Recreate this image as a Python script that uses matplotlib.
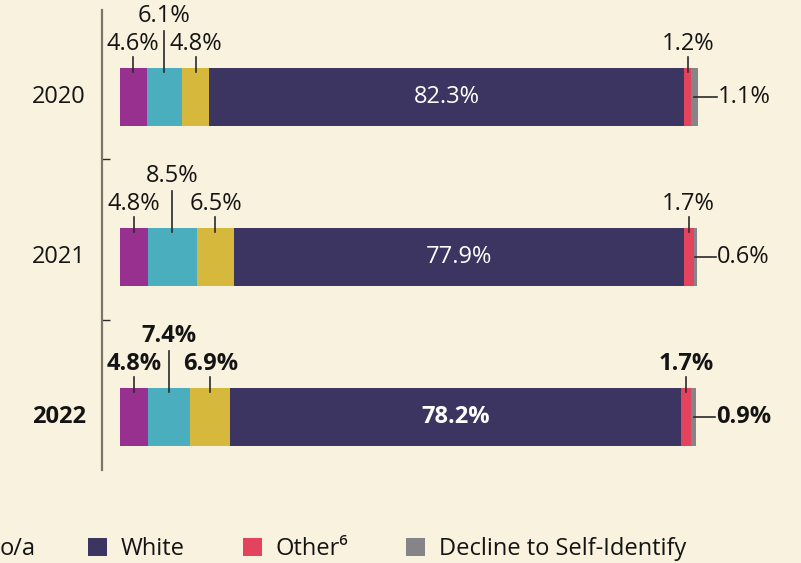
import matplotlib
matplotlib.use("Agg")
import matplotlib.pyplot as plt
from matplotlib.patches import Patch

plt.rcParams['font.family'] = ['Open Sans', 'DejaVu Sans']

years = ["2020", "2021", "2022"]
segments = ["Seg1", "Seg2", "Latino/a", "White", "Other\u2076", "Decline to Self-Identify"]
values = {
    "2020": [4.6, 6.1, 4.8, 82.3, 1.2, 1.1],
    "2021": [4.8, 8.5, 6.5, 77.9, 1.7, 0.6],
    "2022": [4.8, 7.4, 6.9, 78.2, 1.7, 0.9],
}
colors = ["#97308F", "#4BAEBE", "#D6B93C", "#3C3561", "#E4435E", "#858489"]
bg = "#F8F2DE"
txt = "#141414"

W, H = 801, 563
fig = plt.figure(figsize=(W / 100, H / 100), dpi=100, facecolor=bg)
ax = fig.add_axes([0, 0, 1, 1], facecolor=bg)

pxx = 5.77   # px per percent
pxy = 160.0  # px per category step
x0px, y0px = 120, 97
ax.set_xlim(-x0px / pxx, (W - x0px) / pxx)
ax.set_ylim(2 + (H - (y0px + 2 * pxy)) / pxy, -y0px / pxy)

bar_h = 58 / pxy
fs = 17

for i, yr in enumerate(years):
    vals = values[yr]
    bold = (yr == "2022")
    fw = "bold" if bold else "normal"
    left = 0
    for j, v in enumerate(vals):
        ax.barh(i, v, left=left, height=bar_h, color=colors[j], edgecolor="none")
        cx = left + v / 2
        lab = f"{v:.1f}%"
        if j == 3:
            ax.text(cx, i, lab, ha="center", va="center", color="white",
                    fontsize=fs, fontweight=fw)
        elif j == 5:
            end = left + v
            ax.plot([cx, end + 19 / pxx], [i, i], color="#2a2a2a", lw=1.2)
            ax.text(end + 20 / pxx, i, lab, ha="left", va="center", color=txt,
                    fontsize=fs, fontweight=fw)
        else:
            high = (j == 1)
            top = 66 if high else 40
            toff = 81 if high else 53
            ax.plot([cx, cx], [i - 25 / pxy, i - top / pxy], color="#2a2a2a", lw=1.2)
            ax.text(cx, i - toff / pxy, lab, ha="center", va="center", color=txt,
                    fontsize=fs, fontweight=fw)
        left += v
    ax.text(-34 / pxx, i, yr, ha="right", va="center", color=txt,
            fontsize=fs, fontweight=fw)

# axis line with divider ticks
for s in ["top", "right", "bottom"]:
    ax.spines[s].set_visible(False)
ax.spines["left"].set_position(("data", -18 / pxx))
ax.spines["left"].set_color("#7d7668")
ax.spines["left"].set_linewidth(1.6)
ax.spines["left"].set_bounds((10 - y0px) / pxy, (470 - y0px) / pxy)
ax.set_yticks([(159 - y0px) / pxy, (320 - y0px) / pxy])
ax.set_yticklabels([])
ax.tick_params(axis="y", direction="in", length=6, width=1.0, color="#2a2a2a")
ax.set_xticks([])

# legend (left part cropped in reference)
fig.text(0 / W, 1 - 549 / H, "o/a", ha="left", va="center", color=txt, fontsize=fs)
handles = [Patch(facecolor=colors[k], edgecolor="none") for k in (3, 4, 5)]
leg = fig.legend(handles, [segments[3], segments[4], segments[5]], ncol=3,
                 loc="center left", bbox_to_anchor=(88 / W, 1 - 549 / H),
                 frameon=False, fontsize=fs, handlelength=0.8, handleheight=0.8,
                 handletextpad=0.6, columnspacing=2.45, borderpad=0, borderaxespad=0)
for t in leg.get_texts():
    t.set_color(txt)

fig.savefig("out.png", dpi=100, facecolor=bg)
